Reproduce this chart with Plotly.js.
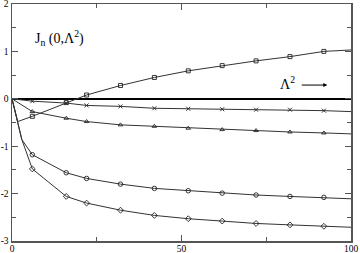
<!DOCTYPE html>
<html><head><meta charset="utf-8">
<script src="https://cdn.plot.ly/plotly-3.0.1.min.js"></script>
<style>html,body{margin:0;padding:0;background:#fff}#c{width:360px;height:253px}</style>
</head><body><div id="c"></div>
<script>
// Marked x positions (Λ²)
const markX = [6,16,22,32,42,52,62,72,82,92];

const sqX = [0,1.7,6,16,22,32,42,52,62,72,82,92,100];
const sqY = [0,-0.48,-0.37,-0.08,0.08,0.28,0.45,0.59,0.70,0.80,0.89,1.00,1.03];

const crX = [0,6,16,22,32,42,52,62,72,82,92,100];
const crY = [0,-0.05,-0.09,-0.14,-0.16,-0.20,-0.21,-0.22,-0.23,-0.23,-0.25,-0.27];

const trX = [0,6,16,22,32,42,52,62,72,82,92,100];
const trY = [0,-0.27,-0.41,-0.48,-0.55,-0.58,-0.62,-0.65,-0.67,-0.70,-0.72,-0.74];

const ciX = [0,1.4,2.9,6,16,22,32,42,52,62,72,82,92,100];
const ciY = [0,-0.44,-0.86,-1.18,-1.56,-1.68,-1.80,-1.89,-1.94,-1.99,-2.03,-2.06,-2.08,-2.11];

const diX = [0,1.4,2.9,6,16,22,32,42,52,62,72,82,92,100];
const diY = [0,-0.44,-0.86,-1.48,-2.06,-2.20,-2.35,-2.46,-2.53,-2.58,-2.63,-2.66,-2.69,-2.71];

const yTickVals = [-3,-2,-1,0,1,2];
const yTickText = ["-3","-2","-1","0","1","2"];
const xTickVals = [0,50,100];
const xTickText = ["0","50","100"];

const series = [
  {x:sqX,y:sqY,sym:'square-open',sz:4},
  {x:crX,y:crY,sym:'x-thin-open',sz:4},
  {x:trX,y:trY,sym:'triangle-up-open',sz:4},
  {x:ciX,y:ciY,sym:'circle-open',sz:4.5},
  {x:diX,y:diY,sym:'diamond-open',sz:4.5}
];
const traces = [];
series.forEach(s=>{
  traces.push({x:s.x,y:s.y,mode:'lines',line:{color:'#333',width:1},hoverinfo:'skip',showlegend:false});
  const mx=[],my=[];
  s.x.forEach((v,i)=>{ if(markX.includes(v)){mx.push(v);my.push(s.y[i]);} });
  traces.push({x:mx,y:my,mode:'markers',marker:{symbol:s.sym,size:s.sz,color:'#222',line:{width:0.9,color:'#222'}},showlegend:false});
});

const fnt = {family:'"Liberation Serif", "DejaVu Serif", serif', size:9.5, color:'#000'};
const layout = {
  width:360,height:253,
  margin:{l:12,r:9,t:4,b:11.5,pad:0},
  paper_bgcolor:'#fff',plot_bgcolor:'#fff',
  showlegend:false,
  xaxis:{range:[0,100],tickmode:'array',tickvals:xTickVals,ticktext:xTickText,
    ticks:'inside',ticklen:6,tickwidth:1,tickcolor:'#555',ticklabeloverflow:'allow',ticklabelstandoff:-2,
    minor:{dtick:25,ticks:'inside',ticklen:4,tickcolor:'#555',tickwidth:1,showgrid:false},
    showline:true,linecolor:'#555',linewidth:1.5,mirror:'allticks',showgrid:false,zeroline:false,
    tickfont:fnt,fixedrange:true},
  yaxis:{range:[-3,2],tickmode:'array',tickvals:yTickVals,ticktext:yTickText,
    ticks:'inside',ticklen:6,tickwidth:1,tickcolor:'#555',ticklabeloverflow:'allow',
    minor:{dtick:0.5,ticks:'inside',ticklen:4,tickcolor:'#555',tickwidth:1,showgrid:false},
    showline:true,linecolor:'#555',linewidth:1.5,mirror:'allticks',showgrid:false,
    zeroline:true,zerolinecolor:'#000',zerolinewidth:2,
    tickfont:fnt,fixedrange:true},
  annotations:[
    {xref:'paper',yref:'paper',x:0.062,y:0.858,xanchor:'left',yanchor:'middle',showarrow:false,
     text:'J<sub>n</sub> (0,Λ<sup>2</sup>)',font:{family:'"Liberation Serif", serif',size:14,color:'#000'}},
    {xref:'paper',yref:'paper',x:0.784,y:0.665,xanchor:'left',yanchor:'middle',showarrow:false,
     text:'Λ<sup>2</sup>',font:{family:'"Liberation Serif", serif',size:14,color:'#000'}},
    {xref:'paper',yref:'paper',x:0.93,y:0.658,ax:-27,ay:0,axref:'pixel',ayref:'pixel',
     showarrow:true,arrowhead:2,arrowsize:0.8,arrowwidth:1,arrowcolor:'#000',text:''}
  ]
};
Plotly.newPlot('c',traces,layout,{displayModeBar:false,staticPlot:true});
</script></body></html>
